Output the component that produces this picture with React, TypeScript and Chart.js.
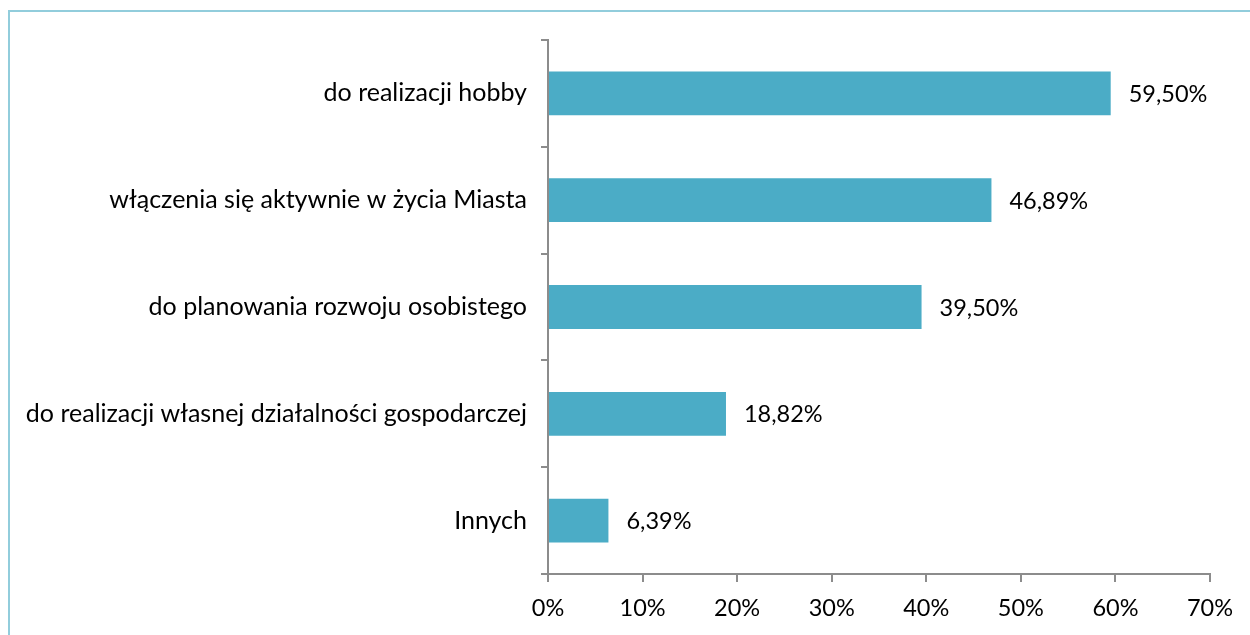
import React, { useEffect, useRef } from "react";
import { Chart, registerables } from "chart.js";

Chart.register(...registerables);

const categories = [
  "do realizacji hobby",
  "włączenia się aktywnie w życia Miasta",
  "do planowania rozwoju osobistego",
  "do realizacji własnej działalności gospodarczej",
  "Innych",
];
const values = [59.5, 46.89, 39.5, 18.82, 6.39];
const valueLabels = ["59,50%", "46,89%", "39,50%", "18,82%", "6,39%"];

const FONT = "Lato, 'Open Sans', sans-serif";

const labelPlugin = {
  id: "valueLabels",
  afterDatasetsDraw(chart: any) {
    const ctx = chart.ctx;
    const meta = chart.getDatasetMeta(0);
    ctx.save();
    ctx.font = `23.5px ${FONT}`;
    ctx.fillStyle = "#000000";
    ctx.textAlign = "left";
    ctx.textBaseline = "middle";
    meta.data.forEach((bar: any, i: number) => {
      ctx.fillText(valueLabels[i], bar.x + 18, bar.y + 1);
    });
    ctx.restore();
  },
};

export default function App() {
  const ref = useRef<HTMLCanvasElement>(null);
  useEffect(() => {
    if (!ref.current) return;
    const chart = new Chart(ref.current, {
      type: "bar",
      data: {
        labels: categories,
        datasets: [
          {
            data: values,
            backgroundColor: "#4bacc6",
            borderWidth: 0,
            barPercentage: 0.41,
            categoryPercentage: 1,
          },
        ],
      },
      options: {
        indexAxis: "y",
        animation: false,
        responsive: false,
        maintainAspectRatio: false,
        layout: { padding: { left: 0, right: 40, top: 40, bottom: 0 } },
        plugins: { legend: { display: false }, tooltip: { enabled: false } },
        scales: {
          x: {
            min: 0,
            max: 70,
            ticks: {
              stepSize: 10,
              color: "#000000",
              font: { family: FONT, size: 23.5 },
              padding: 12,
              callback: (v: any) => v + "%",
            },
            grid: { drawOnChartArea: false, tickLength: 8, color: "#8c8c8c", lineWidth: 2 },
            border: { color: "#8c8c8c", width: 2 },
            afterFit: (s: any) => {
              s.height = 61;
            },
          },
          y: {
            ticks: {
              color: "#000000",
              font: { family: FONT, size: 25 },
              padding: 14,
            },
            grid: { drawOnChartArea: false, tickLength: 7, color: "#8c8c8c", lineWidth: 2, offset: true },
            border: { color: "#8c8c8c", width: 2 },
            afterFit: (s: any) => {
              s.width = 548;
            },
          },
        },
      },
      plugins: [labelPlugin],
    });
    return () => chart.destroy();
  }, []);
  return (
    <div style={{ position: "fixed", left: 0, top: 0, width: 1250, height: 635, background: "#fff" }}>
      <div
        style={{
          position: "absolute",
          left: 8,
          top: 10,
          width: 1260,
          height: 640,
          borderLeft: "2px solid #92cddc",
          borderTop: "2px solid #92cddc",
        }}
      />
      <canvas ref={ref} width={1250} height={635} style={{ position: "absolute", left: 0, top: 0 }} />
    </div>
  );
}
